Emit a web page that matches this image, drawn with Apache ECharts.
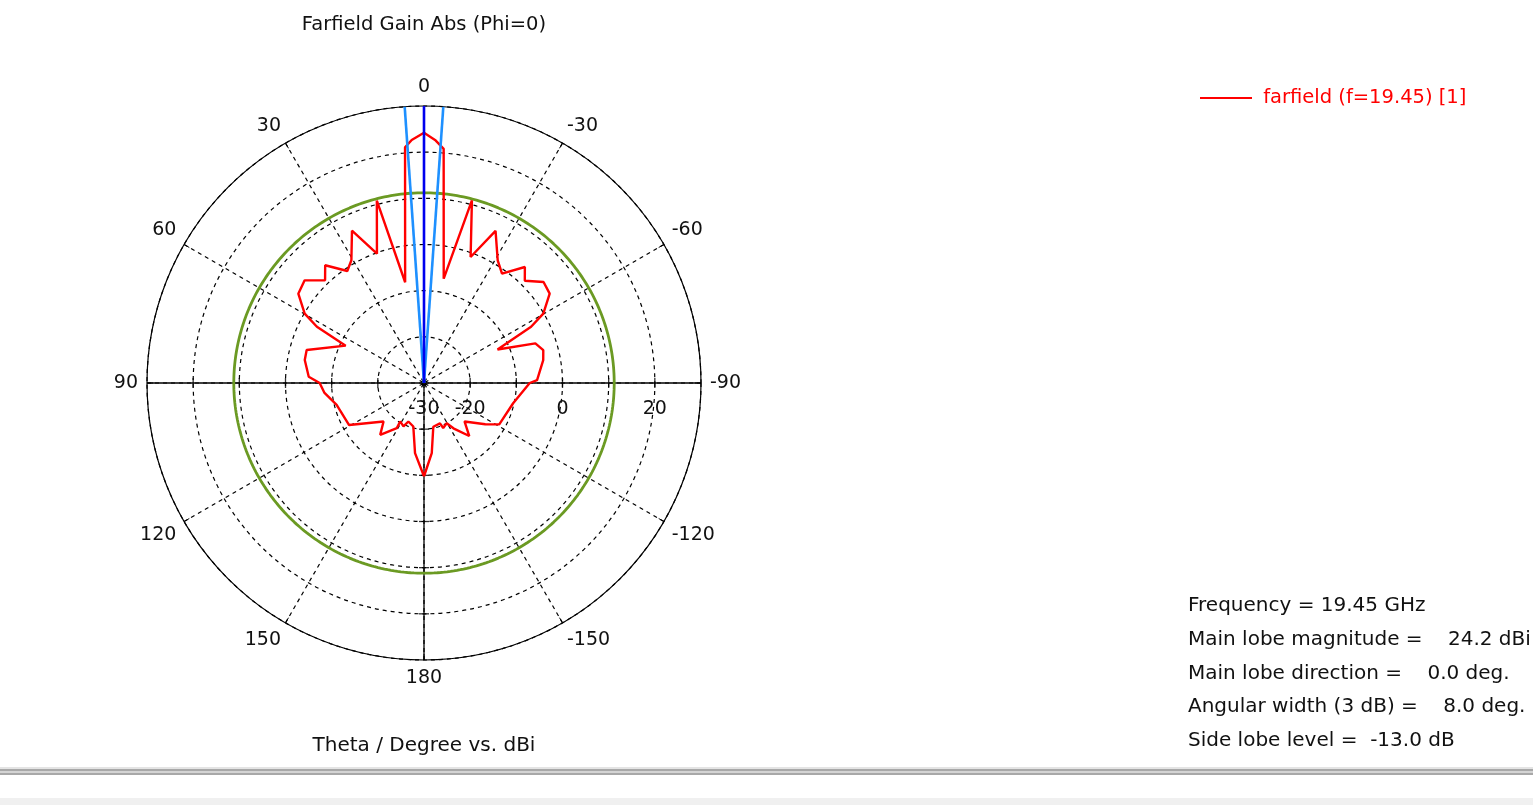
<!DOCTYPE html>
<html><head><meta charset="utf-8">
<script src="https://cdn.jsdelivr.net/npm/echarts@6.0.0/dist/echarts.min.js"></script>
<style>html,body{margin:0;padding:0;background:#fff;}#c{width:1533px;height:805px;}</style>
</head><body><div id="c"></div>
<script>
// Theta (deg, + = left side) and gain (dBi), in drawing order
const thetaDeg = [-180, -173.7, -168, -158.4, -156.9, -150.6, -147, -139.5, -133.5, -124, -118.8, -102.8, -90, -88.5, -79.1, -74.6, -70.4, -65.5, -62.3, -59.8, -54.6, -49.8, -44.6, -41, -35.5, -31, -25.2, -20.3, -14.7, -10.7, -4.8, -2.6, 0,
  2.9, 4.6, 10.6, 14.5, 20, 25.3, 30.6, 34.4, 40, 43.9, 49.3, 54.6, 59.8, 62.3, 64.5, 74.3, 79.1, 86.9, 90, 95.5, 104, 119.3, 133.6, 139.8, 148.9, 148.2, 154.7, 157.9, 166.2, 172.7, 180];
const gainDbi = [-9.8, -14.7, -20.3, -20.6, -19.4, -20.0, -18.3, -14.9, -17.9, -14.0, -11.4, -10.2, -7.1, -5.5, -3.7, -3.2, -4.4, -12.5, -3.8, -0.1, 3.4, 3.9, 1.1, 3.3, -0.9, 1.0, 6.4, -0.9, 10.9, -7.0, 20.9, 22.7, 24.2,
  22.7, 21.2, -7.8, 10.8, -0.2, 6.5, 0.9, -0.6, 3.3, 0.9, 4.1, 3.4, -0.1, -3.8, -11.2, -3.6, -3.7, -5.0, -7.4, -8.3, -10.5, -11.4, -17.9, -15.3, -18.6, -20.2, -19.6, -21.0, -20.3, -14.7, -9.8];
const mainLobeDir = 0;
const beamEdges = [-4, 4];
const sideLobeLevelDbi = 11.2;
const radiusMin = -30, radiusMax = 30, radiusStep = 10;
const radiusLabelValues = [-30, -20, 0, 20];
const solidAxisAngles = [-90, 0, 90, 180];
const tickRadii = [-20, -10, 0, 10, 20];
const infoLines = [
  'Frequency = 19.45 GHz',
  'Main lobe magnitude =    24.2 dBi',
  'Main lobe direction =    0.0 deg.',
  'Angular width (3 dB) =    8.0 deg.',
  'Side lobe level =  -13.0 dB'
];
const FONT = 'DejaVu Sans';
const TXT = '#111';

const toAxis = t => (t < -90 ? t + 360 : t);
const redData = thetaDeg.map((t, i) => [gainDbi[i], toAxis(t)]);
const ray = t => [[radiusMin, toAxis(t)], [radiusMax, toAxis(t)]];
const ring = [];
for (let a = -90; a <= 270; a += 1) ring.push([sideLobeLevelDbi, a]);

const series = [];
solidAxisAngles.forEach(a => series.push({
  type: 'line', coordinateSystem: 'polar', data: ray(a), symbol: 'none', silent: true,
  lineStyle: { color: '#000', width: 1.3 }, z: 2
}));
series.push({ type: 'scatter', coordinateSystem: 'polar', silent: true, symbol: 'rect', symbolSize: [1.3, 10],
  itemStyle: { color: '#000' }, data: tickRadii.map(r => [r, toAxis(-90)]).concat(tickRadii.map(r => [r, toAxis(90)])), z: 2 });
series.push({ type: 'scatter', coordinateSystem: 'polar', silent: true, symbol: 'rect', symbolSize: [10, 1.3],
  itemStyle: { color: '#000' }, data: tickRadii.map(r => [r, toAxis(180)]), z: 2 });
// radius tick labels below the right-hand axis
series.push({ type: 'scatter', coordinateSystem: 'polar', silent: true, symbolSize: 1,
  itemStyle: { color: 'rgba(0,0,0,0)' },
  data: radiusLabelValues.map(r => [r, toAxis(-90)]),
  label: { show: true, position: 'bottom', distance: 16, fontFamily: FONT, fontSize: 19, color: TXT, opacity: 1,
    formatter: p => String(p.value[0]) }, z: 7 });
series.push({ type: 'line', coordinateSystem: 'polar', data: ring, symbol: 'none', silent: true,
  lineStyle: { color: '#6b9a23', width: 2.8 }, z: 3 });
series.push({ name: 'farfield (f=19.45) [1]', type: 'line', coordinateSystem: 'polar', data: redData, symbol: 'none',
  lineStyle: { color: '#ff0000', width: 2.4 }, itemStyle: { color: '#ff0000' }, z: 4 });
beamEdges.forEach(b => series.push({ type: 'line', coordinateSystem: 'polar', data: ray(b), symbol: 'none', silent: true,
  lineStyle: { color: '#1e90ff', width: 2.6 }, z: 5 }));
series.push({ type: 'line', coordinateSystem: 'polar', data: ray(mainLobeDir), symbol: 'none', silent: true,
  lineStyle: { color: '#0000ee', width: 2.6 }, z: 6 });

const chart = echarts.init(document.getElementById('c'), null, { renderer: 'canvas' });
chart.setOption({
  animation: false,
  backgroundColor: '#fff',
  title: [
    { text: 'Farfield Gain Abs (Phi=0)', left: 419, top: 10, textAlign: 'center',
      textStyle: { fontFamily: FONT, fontSize: 19.5, fontWeight: 'normal', color: TXT } },
    { text: 'Theta / Degree vs. dBi', left: 419, top: 731, textAlign: 'center',
      textStyle: { fontFamily: FONT, fontSize: 20, fontWeight: 'normal', color: TXT } }
  ],
  legend: {
    data: ['farfield (f=19.45) [1]'], left: 1195, top: 83, icon: 'rect', itemWidth: 52, itemHeight: 2, itemGap: 11,
    formatter: name => ' ' + name,
    textStyle: { fontFamily: FONT, fontSize: 19.5, color: '#ff0000' }
  },
  polar: { center: [424, 383], radius: 277 },
  angleAxis: {
    type: 'value', min: -90, max: 270, interval: 30, startAngle: 0, clockwise: false,
    axisLine: { show: true, lineStyle: { color: '#000', width: 1.2 } },
    axisTick: { show: true, inside: true, length: 6, lineStyle: { color: '#000' } },
    axisLabel: { margin: 9, fontFamily: FONT, fontSize: 19, color: TXT,
      formatter: v => (v > 180 ? String(v - 360) : String(v)) },
    splitLine: { show: true, lineStyle: { color: '#000', type: [4, 4], width: 1.2 } }
  },
  radiusAxis: {
    type: 'value', min: radiusMin, max: radiusMax, interval: radiusStep,
    axisLine: { show: false }, axisTick: { show: false }, axisLabel: { show: false },
    splitLine: { show: true, lineStyle: { color: '#000', type: [4, 4], width: 1.2 } }
  },
  graphic: [
    ...infoLines.map((t, i) => ({ type: 'text', left: 1188, top: 596 + i * 33.7,
      style: { text: t, font: '20px "' + FONT + '"', fill: TXT } })),
    { type: 'rect', left: 0, top: 767, shape: { width: 1533, height: 2 }, style: { fill: '#e4e4e4' } },
    { type: 'rect', left: 0, top: 769, shape: { width: 1533, height: 2 }, style: { fill: '#a8a8a8' } },
    { type: 'rect', left: 0, top: 771, shape: { width: 1533, height: 2 }, style: { fill: '#d4d4d4' } },
    { type: 'rect', left: 0, top: 773, shape: { width: 1533, height: 2 }, style: { fill: '#a8a8a8' } },
    { type: 'rect', left: 0, top: 798, shape: { width: 1533, height: 7 }, style: { fill: '#f0f0f0' } }
  ],
  series: series
});
</script></body></html>
